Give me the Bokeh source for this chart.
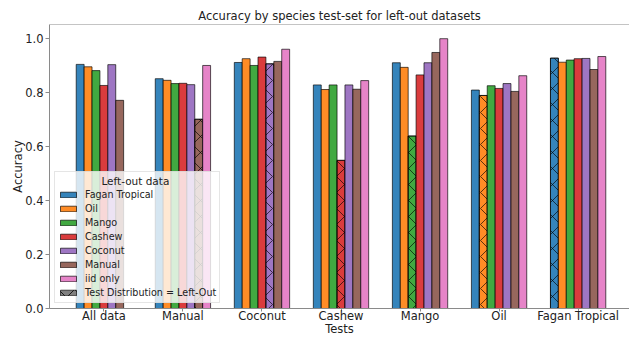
from bokeh.plotting import figure
from bokeh.models import (Range1d, FixedTicker, PrintfTickFormatter, Legend,
                          LegendItem, ColumnDataSource, Span)
from bokeh.embed import file_html
from bokeh.resources import INLINE

tests = ["All data", "Manual", "Coconut", "Cashew", "Mango", "Oil", "Fagan Tropical"]
series = ["Fagan Tropical", "Oil", "Mango", "Cashew", "Coconut", "Manual", "iid only"]
colors = ["#1f77b4", "#ff7f0e", "#2ca02c", "#d62728", "#9467bd", "#8c564b", "#e377c2"]

fagan_tropical = [0.903, 0.850, 0.910, 0.827, 0.909, 0.808, 0.926]
oil = [0.894, 0.844, 0.924, 0.810, 0.892, 0.788, 0.911]
mango = [0.880, 0.832, 0.899, 0.827, 0.638, 0.824, 0.919]
cashew = [0.825, 0.833, 0.930, 0.548, 0.864, 0.814, 0.924]
coconut = [0.902, 0.828, 0.905, 0.827, 0.909, 0.832, 0.925]
manual = [0.770, 0.700, 0.914, 0.811, 0.947, 0.803, 0.884]
iid_only = [None, 0.899, 0.959, 0.843, 0.998, 0.861, 0.932]

values = [fagan_tropical, oil, mango, cashew, coconut, manual, iid_only]

FONT = "DejaVu Sans"
TXT = "#222222"
SPINE = "#8a8a8a"
BW = 0.1
YMAX = 1.0505

p = figure(width=629, height=338, output_backend="svg", toolbar_location=None,
           x_range=Range1d(-0.688, 6.65), y_range=Range1d(0, YMAX),
           min_border_left=49, min_border_right=0, min_border_top=24,
           min_border_bottom=30)

p.title.text = "Accuracy by species test-set for left-out datasets"
p.title.align = "center"
p.title.text_font = FONT
p.title.text_font_size = "11.5px"
p.title.text_font_style = "normal"
p.title.text_color = TXT
p.title.standoff = 4
p.title.offset = 0

p.outline_line_color = None
p.xgrid.visible = False
p.ygrid.visible = False

items = []
for i, (name, col, vals) in enumerate(zip(series, colors, values)):
    off = (i - 3) * BW
    xs = [k + off for k, v in enumerate(vals) if v is not None]
    tops = [v for v in vals if v is not None]
    src = ColumnDataSource(dict(x=xs, top=tops))
    r = p.vbar(x="x", top="top", bottom=0, width=BW, source=src,
               fill_color=col, fill_alpha=0.9, line_color="black",
               line_alpha=0.65, line_width=1)
    items.append(LegendItem(label=name, renderers=[r]))
    hx = [k + off for k, v in enumerate(vals) if v is not None and tests[k] == name]
    ht = [v for k, v in enumerate(vals) if v is not None and tests[k] == name]
    hsrc = ColumnDataSource(dict(x=hx, top=ht))
    p.vbar(x="x", top="top", bottom=0, width=BW, source=hsrc,
           fill_alpha=0, line_color="black", line_alpha=0.65, line_width=1,
           hatch_pattern="diagonal_cross", hatch_color="black",
           hatch_alpha=0.8, hatch_scale=16, hatch_weight=0.8)

# legend-only glyph for the hatched marker (placed outside the visible range)
hr = p.vbar(x=[-5], top=[0.5], bottom=0, width=BW, fill_color="#808080",
            fill_alpha=1, line_color="black", line_alpha=0.65,
            hatch_pattern="diagonal_cross", hatch_color="black",
            hatch_scale=16, hatch_weight=0.8)
items.append(LegendItem(label="Test Distribution = Left-Out", renderers=[hr]))

legend_title = "\u00a0" * 13 + "Left-out data"
legend = Legend(items=items, location=(5, 5), title=legend_title,
                title_text_font=FONT, title_text_font_size="10.5px",
                title_text_font_style="normal", title_text_color=TXT,
                title_standoff=1,
                label_text_font=FONT, label_text_font_size="9.6px",
                label_text_color=TXT, label_standoff=7,
                glyph_width=20, glyph_height=7, label_height=13,
                spacing=1, padding=3, margin=0,
                background_fill_color="white", background_fill_alpha=0.8,
                border_line_color="#cccccc", border_line_width=1)
p.add_layout(legend, "center")

top_spine = Span(location=YMAX, dimension="width", line_color=SPINE, line_width=1)
p.add_layout(top_spine)

p.xaxis.ticker = FixedTicker(ticks=list(range(len(tests))))
p.xaxis.major_label_overrides = {k: t for k, t in enumerate(tests)}
p.xaxis.minor_tick_line_color = None
p.yaxis.minor_tick_line_color = None
p.yaxis.ticker = FixedTicker(ticks=[0.0, 0.2, 0.4, 0.6, 0.8, 1.0])
p.yaxis.formatter = PrintfTickFormatter(format="%.1f")
p.xaxis.axis_label = "Tests"
p.yaxis.axis_label = "Accuracy"
for ax in (p.xaxis, p.yaxis):
    ax.axis_line_color = SPINE
    ax.major_tick_line_color = SPINE
    ax.major_tick_out = 4
    ax.major_tick_in = 0
    ax.major_label_text_font = FONT
    ax.major_label_text_font_size = "11.5px"
    ax.major_label_text_color = TXT
    ax.axis_label_text_font = FONT
    ax.axis_label_text_font_size = "11.5px"
    ax.axis_label_text_font_style = "normal"
    ax.axis_label_text_color = TXT
p.xaxis.major_tick_out = 3
p.xaxis.major_label_standoff = -3
p.xaxis.axis_label_standoff = -4
p.yaxis.major_label_standoff = 2
p.yaxis.axis_label_standoff = -3

open("out.html", "w").write(file_html(p, INLINE))
